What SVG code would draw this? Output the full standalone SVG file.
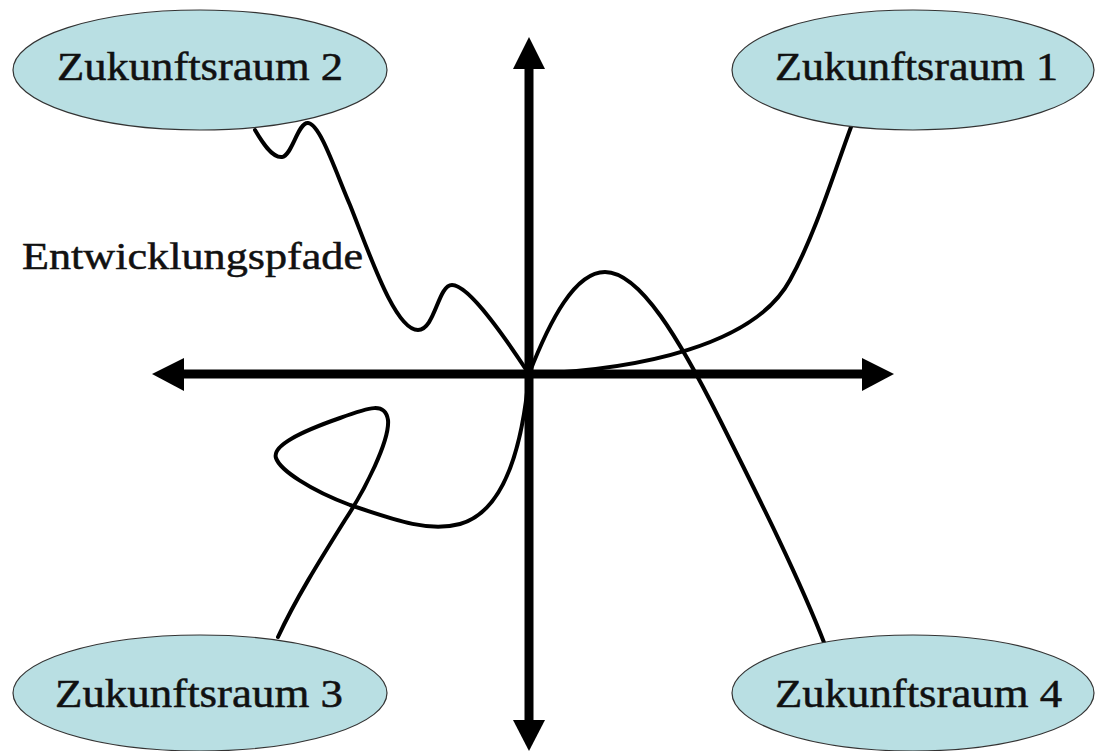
<svg xmlns="http://www.w3.org/2000/svg" width="1095" height="751" viewBox="0 0 1095 751">
<style>
.node ellipse{fill:#b9dfe3;stroke:#333;stroke-width:1.2}
.node text{font-family:"Liberation Serif","Times New Roman",serif;font-size:40px;fill:#111;stroke:#111;stroke-width:0.5;text-anchor:start}
.path{fill:none;stroke:#000;stroke-width:4;stroke-linecap:round;stroke-linejoin:round}
.axis{stroke:#000;stroke-width:9;fill:none}
.head{fill:#000}
.lbl{font-family:"Liberation Serif","Times New Roman",serif;font-size:38px;fill:#111;stroke:#111;stroke-width:0.5}
</style>
<rect width="1095" height="751" fill="#fff"/>
<g id="connectors">
<g id="axes">
<line class="axis" x1="180" y1="374" x2="866" y2="374"/>
<line class="axis" x1="529" y1="64" x2="529" y2="724"/>
<polygon class="head" points="152,374 184,358 184,391"/>
<polygon class="head" points="894,374 862,358 862,391"/>
<polygon class="head" points="529,37 513,69 545,69"/>
<polygon class="head" points="529,751 513,720 545,720"/>
</g>
<path class="path" id="p2" d="M255,130 C262,142 272,158 282,157 C292,156 298,122 308,123 C320,124 335,170 350,205 C370,255 395,330 418,330 C435,330 438,285 452,285 C470,285 510,345 529,374"/>
<path class="path" id="p1" d="M529,374 C640,370 755,345 790,280 C815,235 835,170 851,127"/>
<path class="path" id="p4" d="M529,374 C550,320 575,272 605,272 C640,272 680,340 720,420 C760,500 800,580 825,645"/>
<path class="path" id="p3" d="M529,374 C524,430 510,510 460,524 C430,532 400,522 350,505 C310,490 280,470 276,458 C272,446 300,432 340,418 C370,407 385,402 388,420 C390,440 365,490 345,520 C320,560 295,600 278,637"/>
</g>
<g id="z2" class="node"><ellipse cx="200" cy="70" rx="187" ry="60"/><text x="57" y="80" textLength="286" lengthAdjust="spacingAndGlyphs">Zukunftsraum 2</text></g>
<g id="z1" class="node"><ellipse cx="913" cy="70" rx="181" ry="60"/><text x="775" y="80" textLength="283" lengthAdjust="spacingAndGlyphs">Zukunftsraum 1</text></g>
<g id="z3" class="node"><ellipse cx="200" cy="693" rx="187" ry="58"/><text x="55" y="707" textLength="288" lengthAdjust="spacingAndGlyphs">Zukunftsraum 3</text></g>
<g id="z4" class="node"><ellipse cx="913" cy="693" rx="181" ry="58"/><text x="775" y="707" textLength="287" lengthAdjust="spacingAndGlyphs">Zukunftsraum 4</text></g>
<g id="label"><text class="lbl" x="22" y="269" textLength="341" lengthAdjust="spacingAndGlyphs">Entwicklungspfade</text></g>
</svg>
